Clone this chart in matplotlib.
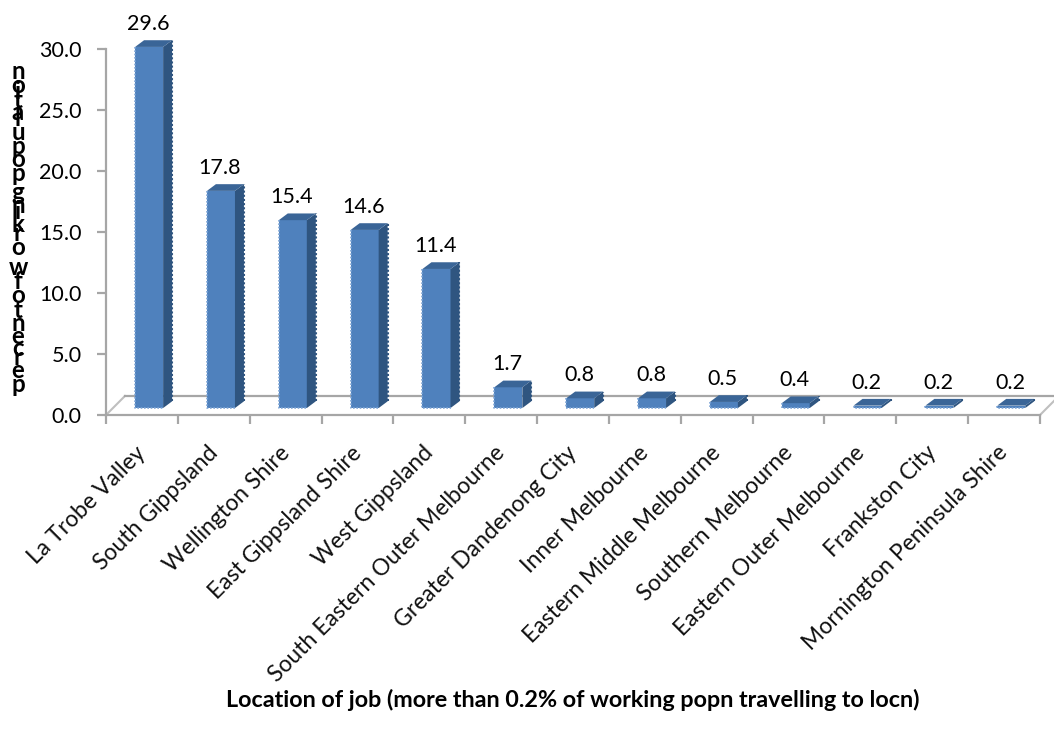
import matplotlib
matplotlib.use('Agg')
import matplotlib.pyplot as plt
from matplotlib import font_manager as fm
from matplotlib.patches import Polygon
import numpy as np

# values
locations = ['La Trobe Valley', 'South Gippsland', 'Wellington Shire', 'East Gippsland Shire',
             'West Gippsland', 'South Eastern Outer Melbourne', 'Greater Dandenong City',
             'Inner Melbourne', 'Eastern Middle Melbourne', 'Southern Melbourne',
             'Eastern Outer Melbourne', 'Frankston City', 'Mornington Peninsula Shire']
percent = [29.6, 17.8, 15.4, 14.6, 11.4, 1.7, 0.8, 0.8, 0.5, 0.4, 0.2, 0.2, 0.2]
y_ticks = [0, 5, 10, 15, 20, 25, 30]
y_title = 'percent of working population'
x_title = 'Location of job (more than 0.2% of working popn travelling to locn)'

W, H = 1054, 740
FONT = 'Lato'
GREY = '#A6A6A6'
FRONT, SIDE, TOP = '#4F81BD', '#2F5580', '#3A6597'

# fake 3d offsets, in axis units
BASE = 0.57
BAR_W = 0.39
SHIFT = 0.10
DX, DY = 0.125, 0.55
FLOOR_DX, FLOOR_DY = 0.264, 1.56

fig = plt.figure(figsize=(W / 100, H / 100), dpi=100)
ax = fig.add_axes([106 / W, 1 - 415 / H, (1040 - 106) / W, (415 - 49) / H])
ax.set_xlim(-0.5, 12.5)
ax.set_ylim(0, 30)
ax.patch.set_alpha(0)

for s in ['top', 'right']:
    ax.spines[s].set_visible(False)
for s in ['left', 'bottom']:
    ax.spines[s].set_color(GREY)
    ax.spines[s].set_linewidth(1.6)

ax.set_yticks(y_ticks)
ax.set_yticklabels(['%.1f' % t for t in y_ticks], fontfamily=FONT, fontsize=15.5)
ax.set_xticks(np.arange(-0.5, 13))
ax.set_xticklabels([])
ax.tick_params(axis='both', color=GREY, width=1.6, length=6.5)
ax.tick_params(axis='y', pad=11)

# floor of the 3d box
ax.plot([-0.5, -0.5 + FLOOR_DX], [0, FLOOR_DY], color='#BFBFBF', lw=1.5, clip_on=False, zorder=1)
ax.plot([12.5, 12.5 + FLOOR_DX], [0, FLOOR_DY], color='#BFBFBF', lw=1.5, clip_on=False, zorder=1)
ax.plot([-0.5 + FLOOR_DX, 12.5 + FLOOR_DX], [FLOOR_DY, FLOOR_DY], color=GREY, lw=1.6,
        clip_on=False, zorder=1)

x = np.arange(len(percent)) + SHIFT
tops = BASE + np.array(percent)
bars = ax.bar(x, percent, width=BAR_W, bottom=BASE, color=FRONT, zorder=3)
for b in bars:
    b.set_clip_on(False)
for xi, t in zip(x, tops):
    r = xi + BAR_W / 2
    l = xi - BAR_W / 2
    ax.add_patch(Polygon([(r, BASE), (r + DX, BASE + DY), (r + DX, t + DY), (r, t)],
                         fc=SIDE, ec='none', zorder=3, clip_on=False))
    ax.add_patch(Polygon([(l, t), (l + DX, t + DY), (r + DX, t + DY), (r, t)],
                         fc=TOP, ec='none', zorder=3, clip_on=False))
    # dotted rim, the original has jagged edges
    ax.plot([r + DX, r + DX], [BASE + DY, t + DY], color=SIDE, lw=1.5, ls=(0, (1, 1)), zorder=3, clip_on=False)
    ax.plot([l, l, r], [t, BASE, BASE], color='#7FA6D6', lw=1.2, ls=(0, (1, 1)), zorder=4, clip_on=False)

for xi, t, v in zip(x, tops, percent):
    ax.annotate('%.1f' % v, (xi, t), xytext=(-0.7, 16.5), textcoords='offset points', ha='center',
                va='center', fontfamily=FONT, fontsize=15.5, annotation_clip=False)

for i, name in enumerate(locations):
    ax.annotate(name, (i, 0), xytext=(-5, -19.5), textcoords='offset points', ha='right', va='top',
                rotation=45, rotation_mode='anchor', fontfamily=FONT, fontsize=16.5,
                color='#111111', annotation_clip=False)

fig.text(573 / W, 1 - 700 / H, x_title, ha='center', va='center', fontfamily=FONT,
         fontweight='bold', fontsize=16.85)

# y title: the letters are stacked upright and overlap, bottom to top
fp = fm.FontProperties(family=FONT, weight='bold', size=17.4)
font = fm.get_font(fm.findfont(fp))
font.set_size(17.4, 100)
y_pos = 384.0
for ch in y_title:
    adv = font.load_char(ord(ch)).linearHoriAdvance / 65536
    if ch != ' ':
        fig.text(18 / W, 1 - y_pos / H, ch, ha='center', va='center', fontproperties=fp)
    y_pos -= adv

fig.savefig('out.png', dpi=100)
